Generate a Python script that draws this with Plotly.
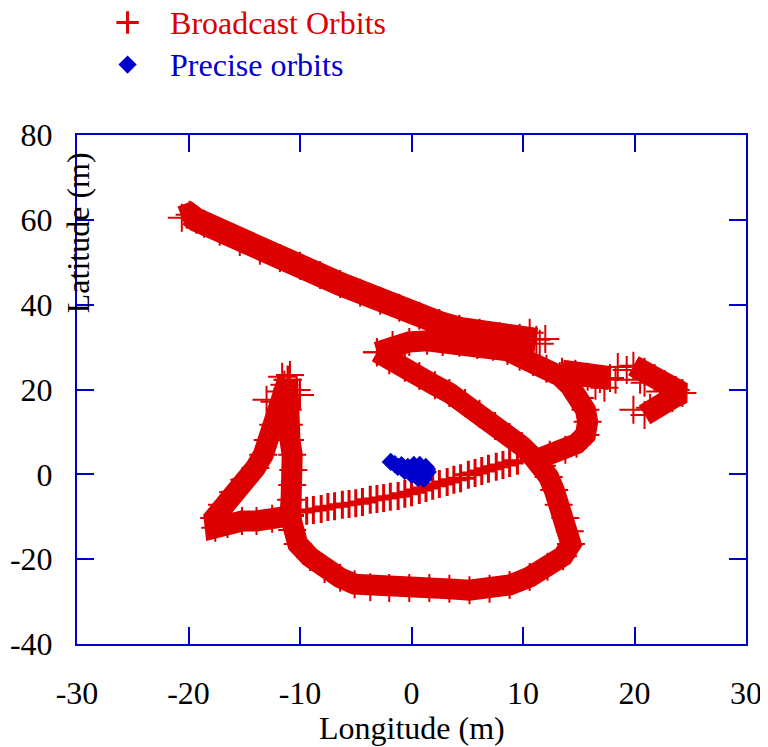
import plotly.graph_objects as go

RED = "#DD0000"
BLUE = "#0000CC"
FONT = "Liberation Serif"

# ---- Broadcast orbits: band segments (longitude m, latitude m)
segA_x = [-20.6, -19.9, -19.3, -18.6, -17.2, -15.4, -13.6, -11.8, -10.0, -8.2, -6.4, -4.6, -2.8, -1.1, 0.7, 2.5, 4.3, 6.1, 7.9, 9.7, 11.2]
segA_y = [60.5, 61.2, 60.0, 59.1, 57.2, 54.8, 52.7, 51.0, 49.2, 47.0, 44.9, 42.8, 40.9, 39.3, 37.4, 35.7, 34.3, 33.4, 32.6, 32.2, 31.7]

segB_x = [-3.1, -1.7, -0.2, 1.4, 2.8, 4.3, 5.9, 7.3, 8.6, 9.7, 10.9, 12.1, 13.3, 14.2, 15.1, 15.6, 15.8, 15.6, 14.8, 13.8, 12.4, 11.1]
segB_y = [28.8, 30.5, 31.2, 31.5, 31.2, 31.0, 30.5, 30.1, 29.1, 27.7, 26.5, 24.9, 23.2, 20.9, 18.0, 15.2, 12.4, 9.3, 7.2, 5.8, 4.6, 3.4]

segC_x = [-3.1, -2.0, -0.6, 0.7, 2.1, 3.4, 4.8, 6.1, 7.5, 8.8, 9.9, 10.9, 11.7, 12.3, 12.8, 13.2, 13.8, 14.2, 14.3, 13.6, 12.2, 10.6, 8.8, 7.0, 5.2, 3.4, 1.6, -0.2, -2.0, -3.7, -5.1, -6.4, -7.8, -9.1, -10.2, -10.7, -10.9, -10.8, -10.7, -10.6, -10.7, -10.9, -11.0, -11.1, -11.2, -11.1]
segC_y = [28.8, 26.9, 25.1, 23.2, 21.0, 19.2, 16.8, 14.3, 11.4, 8.8, 6.7, 4.1, 2.0, -0.6, -3.7, -7.2, -10.3, -13.4, -16.4, -19.3, -21.8, -24.2, -26.1, -27.0, -27.3, -27.0, -26.8, -26.8, -26.8, -26.6, -25.9, -24.4, -22.3, -19.5, -16.4, -13.1, -9.6, -6.0, -2.5, 1.0, 4.6, 8.1, 11.7, 15.2, 18.7, 22.3]

segE_x = [-11.1, -11.8, -12.4, -12.9, -13.3, -14.0, -15.0, -16.0, -17.0, -17.7, -17.6, -16.5, -15.2, -13.9, -12.5, -10.9]
segE_y = [22.3, 15.2, 11.7, 8.1, 4.6, 1.5, -1.3, -4.2, -7.2, -10.3, -12.6, -11.7, -11.0, -11.0, -10.5, -9.8]

segD_x = [13.5, 14.7, 15.8, 16.9, 17.8]
segD_y = [24.2, 23.7, 23.0, 22.5, 22.7]

segR_x = [19.9, 20.9, 21.8, 22.7, 23.7, 24.3, 23.4, 22.3, 21.4, 20.9]
segR_y = [25.6, 24.2, 22.7, 21.3, 19.9, 19.2, 18.0, 16.8, 15.7, 14.0]

# thin band of separate crosses
thin_x = [-10.0, -9.4, -8.8, -8.1, -7.5, -6.9, -6.2, -5.6, -5.0, -4.4, -3.7, -3.1, -2.5, -1.9, -1.2, -0.6, 0.0, 0.7, 1.3, 1.9, 2.5, 3.2, 3.8, 4.4, 5.1, 5.7, 6.3, 6.9, 7.6, 8.2, 8.8, 9.5]
thin_y = [-8.9, -8.6, -8.4, -8.2, -7.7, -7.5, -7.2, -7.0, -6.8, -6.5, -6.0, -5.8, -5.6, -5.3, -5.1, -4.6, -4.2, -3.7, -3.2, -2.7, -2.3, -1.8, -1.3, -0.9, -0.1, 0.3, 0.8, 1.3, 1.8, 2.2, 2.7, 3.2]

# isolated / extra crosses
extra_x = [10.6, 12.0, 11.5, -11.8, -12.3, -10.3, -10.9, -11.4, -13.0, -10.0, -11.6, 14.7, 16.5, 17.3, 18.5, 19.3, 18.3, 20.9, 22.3, 20.5, 19.9]
extra_y = [33.4, 31.9, 30.8, 19.5, 17.1, 19.9, 23.4, 21.1, 17.6, 18.7, 23.0, 21.1, 20.9, 20.4, 25.3, 24.6, 22.3, 21.6, 19.5, 22.3, 15.2]

# ---- Precise orbits
prec_x = [-1.86, -1.23, -0.60, 0.03, 0.57, 1.10, 1.46, 1.28, 0.74, 0.21, -0.33, -0.87, 0.39, 0.92, -0.15, 1.2, 0.5, -1.5, -0.9, 0.0, 0.6, 1.0, 0.2, 0.8, -0.3, 1.4]
prec_y = [2.92, 1.75, 0.80, -0.14, -0.85, -1.08, 0.57, 1.75, 2.22, 2.22, 1.75, 1.51, 1.04, 0.57, 0.80, 0.0, 0.2, 2.4, 2.2, 1.5, 1.6, 1.2, 0.5, -0.3, 1.2, 1.2]

x_ticks = [-30, -20, -10, 0, 10, 20, 30]
y_ticks = [-40, -20, 0, 20, 40, 60, 80]

fig = go.Figure()

segments = [(segA_x, segA_y, 24), (segB_x, segB_y, 21), (segC_x, segC_y, 21),
            (segE_x, segE_y, 21), (segD_x, segD_y, 24), (segR_x, segR_y, 22)]
for sx, sy, w in segments:
    fig.add_trace(go.Scatter(x=sx, y=sy, mode="lines", line=dict(color=RED, width=w),
                             showlegend=False, hoverinfo="skip"))

band_x, band_y = [], []
for sx, sy, _ in segments:
    band_x += sx
    band_y += sy
band_x += extra_x
band_y += extra_y

fig.add_trace(go.Scatter(
    x=band_x, y=band_y, mode="markers", showlegend=False, hoverinfo="skip",
    marker=dict(symbol="cross-thin", size=20, line=dict(color=RED, width=2), color=RED)))

NB = "\u00a0\u00a0\u00a0"
fig.add_trace(go.Scatter(
    x=thin_x, y=thin_y, mode="markers",
    name=f"{NB}<span style='color:{RED};font-size:32px'>Broadcast Orbits</span>",
    marker=dict(symbol="cross-thin", size=20, line=dict(color=RED, width=3), color=RED)))

fig.add_trace(go.Scatter(
    x=prec_x, y=prec_y, mode="markers",
    name=f"{NB}<span style='color:{BLUE};font-size:32px'>Precise orbits</span>",
    marker=dict(symbol="diamond", size=14, color=BLUE, line=dict(width=0))))

axis_common = dict(ticks="inside", ticklen=17, tickwidth=2, tickcolor=BLUE,
                   showline=True, linecolor=BLUE, linewidth=2, mirror="ticks",
                   showgrid=False, zeroline=False, automargin=False,
                   tickfont=dict(family=FONT, size=32, color="black"))

fig.update_xaxes(range=[-30, 30], tickvals=x_ticks, ticktext=[str(v) for v in x_ticks],
                 ticklabelstandoff=20, **axis_common)
fig.update_yaxes(range=[-40, 80], tickvals=y_ticks, ticktext=[str(v) for v in y_ticks],
                 ticklabelstandoff=16, **axis_common)

# the page body adds an 8px offset, so the figure is sized/margined to compensate
fig.update_layout(
    width=760, height=739,
    margin=dict(l=69, r=22, t=127, b=103, autoexpand=False),
    plot_bgcolor="white", paper_bgcolor="white",
    font=dict(family=FONT, size=32, color="black"),
    legend=dict(xref="container", yref="paper", x=0.131, y=1.272,
                xanchor="left", yanchor="top",
                bgcolor="rgba(0,0,0,0)", font=dict(family=FONT, size=30),
                tracegroupgap=0, itemsizing="trace"),
    annotations=[
        dict(text="Longitude (m)", xref="paper", yref="paper", x=0.5, y=-0.165,
             xanchor="center", yanchor="middle", showarrow=False,
             font=dict(family=FONT, size=32, color="black")),
        dict(text="Latitude (m)", xref="paper", yref="paper", x=0.0015, y=0.807,
             xanchor="center", yanchor="middle", showarrow=False, textangle=-90,
             font=dict(family=FONT, size=32, color="black")),
    ],
)

fig.write_html("out.html")
